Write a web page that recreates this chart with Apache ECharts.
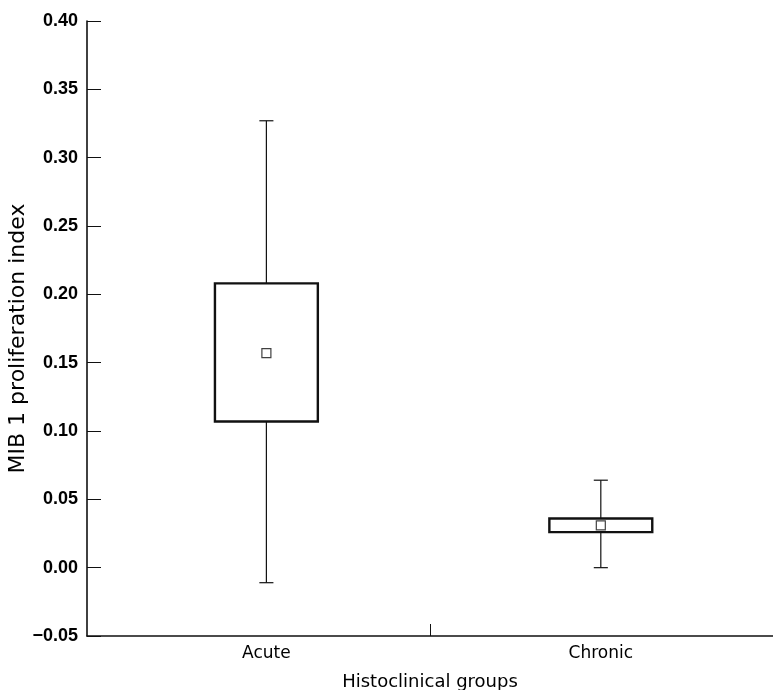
<!DOCTYPE html>
<html>
<head>
<meta charset="utf-8">
<script src="https://cdn.jsdelivr.net/npm/echarts@6/dist/echarts.min.js"></script>
<style>html,body{margin:0;padding:0;background:#fff;}#c{width:773px;height:690px;}</style>
</head>
<body>
<div id="c"></div>
<script>
const categories = ['Acute', 'Chronic'];
const groupPos = [0.523, 1.498];
const whiskerLow = [-0.011, 0.000];
const boxLow = [0.107, 0.026];
const meanVal = [0.157, 0.031];
const boxHigh = [0.208, 0.036];
const whiskerHigh = [0.327, 0.064];

const boxData = categories.map((c, i) => [groupPos[i], whiskerLow[i], boxLow[i], boxHigh[i], whiskerHigh[i]]);
const meanData = categories.map((c, i) => [groupPos[i], meanVal[i]]);

const chart = echarts.init(document.getElementById('c'));
const fontTick = '"Liberation Sans", Arial, sans-serif';
const fontText = '"DejaVu Sans", sans-serif';
chart.setOption({
  animation: false,
  backgroundColor: '#fff',
  grid: { left: 87, right: 0, top: 21, bottom: 54, containLabel: false, outerBoundsMode: 'none' },
  xAxis: {
    type: 'value', min: 0, max: 2,
    name: 'Histoclinical groups', nameLocation: 'middle', nameGap: 37, nameMoveOverlap: false,
    nameTextStyle: { fontFamily: fontText, fontSize: 18, color: '#000' },
    axisLine: { show: true, onZero: false, lineStyle: { color: '#111', width: 1.6 } },
    axisTick: { show: true, inside: true, length: 12, customValues: [1], lineStyle: { color: '#111' } },
    axisLabel: {
      customValues: groupPos, margin: 9,
      formatter: v => { const i = groupPos.findIndex(p => Math.abs(p - v) < 1e-6); return i >= 0 ? categories[i] : ''; },
      fontFamily: fontText, fontSize: 17, color: '#000'
    },
    splitLine: { show: false }
  },
  yAxis: {
    type: 'value', min: -0.05, max: 0.40, interval: 0.05,
    name: 'MIB 1 proliferation index', nameLocation: 'middle', nameGap: 69, nameRotate: 90, nameMoveOverlap: false,
    nameTextStyle: { fontFamily: fontText, fontSize: 22, color: '#000', verticalAlign: 'middle', padding: [0, 20, 0, 0] },
    axisLine: { show: true, onZero: false, lineStyle: { color: '#111', width: 1.6 } },
    axisTick: { show: true, inside: true, length: 14, lineStyle: { color: '#111' } },
    axisLabel: {
      margin: 9, fontFamily: fontTick, fontSize: 18, fontWeight: 'bold', color: '#000',
      formatter: v => (v < 0 ? '\u2212' : '') + Math.abs(v).toFixed(2)
    },
    splitLine: { show: false }
  },
  series: [
    {
      type: 'custom',
      data: boxData,
      renderItem: (params, api) => {
        const x = api.value(0);
        const bw = 0.30, cw = 0.041;
        const pWL = api.coord([x, api.value(1)]);
        const pBL = api.coord([x, api.value(2)]);
        const pBH = api.coord([x, api.value(3)]);
        const pWH = api.coord([x, api.value(4)]);
        const halfBox = api.size([bw, 0])[0] / 2;
        const halfCap = api.size([cw, 0])[0] / 2;
        const cx = pBL[0];
        return {
          type: 'group',
          children: [
            { type: 'line', shape: { x1: cx, y1: pWH[1], x2: cx, y2: pBH[1] }, style: { stroke: '#111', lineWidth: 1.2 } },
            { type: 'line', shape: { x1: cx, y1: pBL[1], x2: cx, y2: pWL[1] }, style: { stroke: '#111', lineWidth: 1.2 } },
            { type: 'line', shape: { x1: cx - halfCap, y1: pWH[1], x2: cx + halfCap, y2: pWH[1] }, style: { stroke: '#111', lineWidth: 1.2 } },
            { type: 'line', shape: { x1: cx - halfCap, y1: pWL[1], x2: cx + halfCap, y2: pWL[1] }, style: { stroke: '#111', lineWidth: 1.2 } },
            { type: 'rect', shape: { x: cx - halfBox, y: pBH[1], width: halfBox * 2, height: pBL[1] - pBH[1] }, style: { fill: '#fff', stroke: '#111', lineWidth: 2.4 } }
          ]
        };
      }
    },
    {
      type: 'scatter',
      data: meanData,
      symbol: 'rect', symbolSize: 9,
      itemStyle: { color: '#fff', borderColor: '#111', borderWidth: 1.2 },
      z: 5
    }
  ]
});
</script>
</body>
</html>
